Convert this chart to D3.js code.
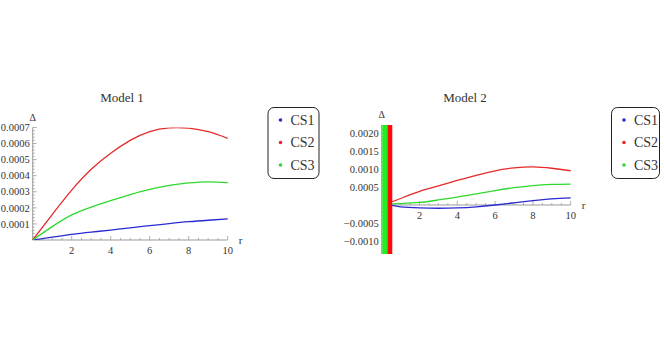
<!DOCTYPE html>
<html><head><meta charset="utf-8">
<script src="https://cdn.jsdelivr.net/npm/d3@7"></script>
<style>body{margin:0;background:#fff}svg{display:block}</style>
</head><body><svg id="c" width="664" height="348"></svg>
<script>
// ---------- data ----------
const series = ["CS1", "CS2", "CS3"];
const colors = ["#2a2ad2", "#e42a2a", "#2fd82f"];
const r1 = [0, 1, 2, 3, 4, 5, 6, 7, 8, 9, 10];
const m1CS1 = [0, 0.000018, 0.000035, 0.000049, 0.000062, 0.000076, 0.000089, 0.000102, 0.000114, 0.000123, 0.000131];
const m1CS2 = [0, 0.000158, 0.00031, 0.00044, 0.00054, 0.00062, 0.000675, 0.000698, 0.000696, 0.000674, 0.000633];
const m1CS3 = [0, 0.000083, 0.000156, 0.000205, 0.000245, 0.000283, 0.000315, 0.00034, 0.000355, 0.000362, 0.000357];
const r2 = [0.55, 1, 2, 3, 4, 5, 6, 7, 8, 9, 10];
const m2CS1 = [-0.00001, -0.00005, -0.00008, -0.00009, -0.00008, -0.00005, 0, 0.00006, 0.00012, 0.00017, 0.0002];
const m2CS2 = [0.00009, 0.00018, 0.00038, 0.00053, 0.00068, 0.00082, 0.00095, 0.00103, 0.00106, 0.00102, 0.00095];
const m2CS3 = [0.00003, 0.00004, 0.00007, 0.00014, 0.00022, 0.00031, 0.00040, 0.00048, 0.00054, 0.00057, 0.00058];
// divergent region near r = 0 in Model 2 (r extent of each band)
const m2Bands = [{s: 2, r0: 0.03, r1: 0.3}, {s: 1, r0: 0.3, r1: 0.56}];
const xTicks = [2, 4, 6, 8, 10];
const m1YTicks = [0.0001, 0.0002, 0.0003, 0.0004, 0.0005, 0.0006, 0.0007];
const m2YTicks = [-0.001, -0.0005, 0.0005, 0.001, 0.0015, 0.002];

const svg = d3.select("#c");
const serif = "'Liberation Serif','Times New Roman',serif";
const axisCol = "#9a9a9a", textCol = "#333";

function panel(o) {
  const g = svg.append("g");
  const x = d3.scaleLinear().domain([0, 10]).range(o.xr);
  const y = d3.scaleLinear().domain(o.yd).range(o.yr);
  const clipId = "clip" + o.id;
  g.append("clipPath").attr("id", clipId).append("rect")
    .attr("x", o.xr[0] - 2).attr("y", o.yr[1]).attr("width", o.xr[1] - o.xr[0] + 4).attr("height", o.yr[0] - o.yr[1]);
  // axes
  g.append("line").attr("x1", x(0)).attr("x2", x(10)).attr("y1", y(0)).attr("y2", y(0)).attr("stroke", axisCol).attr("stroke-width", 1);
  g.append("line").attr("x1", x(0)).attr("x2", x(0)).attr("y1", o.yr[0]).attr("y2", o.yr[1]).attr("stroke", axisCol).attr("stroke-width", 1);
  // x ticks (major + minor, pointing inward)
  const xMinor = d3.range(0.5, 10.01, 0.5);
  g.selectAll(".xm").data(xMinor).join("line")
    .attr("x1", d => x(d)).attr("x2", d => x(d))
    .attr("y1", y(0)).attr("y2", d => y(0) - (xTicks.includes(d) ? 4 : 2))
    .attr("stroke", axisCol).attr("stroke-width", 0.8);
  g.selectAll(".xl").data(xTicks).join("text")
    .attr("x", d => x(d)).attr("y", y(0) + o.xLabDy)
    .attr("text-anchor", "middle").attr("font-family", serif).attr("font-size", 10.5).attr("fill", textCol)
    .text(d => d);
  // y ticks
  const step = o.yStep / 5;
  const yMinor = d3.range(Math.ceil(o.yd[0] / step), Math.floor(o.yd[1] / step) + 1).map(k => k * step).filter(v => Math.abs(v) > 1e-12);
  g.selectAll(".ym").data(yMinor).join("line")
    .attr("x1", x(0)).attr("x2", d => x(0) + (Math.abs(Math.round(d / step)) % 5 === 0 ? 4 : 2))
    .attr("y1", d => y(d)).attr("y2", d => y(d))
    .attr("stroke", axisCol).attr("stroke-width", 0.8);
  g.selectAll(".yl").data(o.yTicks).join("text")
    .attr("x", x(0) - 3).attr("y", d => y(d)).attr("dy", "0.35em")
    .attr("text-anchor", "end").attr("font-family", serif).attr("font-size", 10.5).attr("fill", textCol)
    .text(d => (d < 0 ? "\u2212" : "") + Math.abs(d).toFixed(4));
  // axis labels
  g.append("text").attr("x", x(0)).attr("y", o.yr[1] - 7).attr("text-anchor", "middle")
    .attr("font-family", serif).attr("font-size", 10).attr("fill", textCol).text("\u0394");
  g.append("text").attr("x", x(10) + 13).attr("y", y(0) + 4).attr("text-anchor", "middle")
    .attr("font-family", serif).attr("font-size", 11).attr("fill", textCol).text("r");
  // title
  g.append("text").attr("x", o.titleX).attr("y", 102).attr("text-anchor", "middle")
    .attr("font-family", serif).attr("font-size", 13).attr("fill", textCol).text(o.title);
  const pg = g.append("g").attr("clip-path", `url(#${clipId})`);
  if (o.bands) {
    pg.selectAll(".band").data(o.bands).join("rect")
      .attr("x", d => x(d.r0)).attr("width", d => x(d.r1) - x(d.r0))
      .attr("y", o.yr[1]).attr("height", o.yr[0] - o.yr[1])
      .attr("fill", d => ["#2020ff", "#ff0a0a", "#22ee22"][d.s]);
  }
  const line = d3.line().x(d => x(d[0])).y(d => y(d[1])).curve(d3.curveNatural);
  o.data.forEach((vals, i) => {
    pg.append("path").datum(o.r.map((rv, k) => [rv, vals[k]]))
      .attr("d", line).attr("fill", "none").attr("stroke", colors[i]).attr("stroke-width", 1.3);
  });
  // legend
  const lg = g.append("g");
  lg.append("rect").attr("x", o.leg[0]).attr("y", 107.5).attr("width", o.leg[1]).attr("height", 71)
    .attr("rx", 6).attr("fill", "#fff").attr("stroke", "#222").attr("stroke-width", 1);
  series.forEach((s, i) => {
    const cy = 120 + i * 22.5;
    lg.append("circle").attr("cx", o.leg[0] + 12.5).attr("cy", cy).attr("r", 1.8).attr("fill", colors[i]);
    lg.append("text").attr("x", o.leg[0] + 22.5).attr("y", cy).attr("dy", "0.35em")
      .attr("font-family", serif).attr("font-size", 14).attr("fill", textCol).text(s);
  });
}

panel({id: 1, title: "Model 1", titleX: 122, xr: [32.7, 227.7], yd: [0, 0.0007], yr: [240, 127.5], yStep: 0.0001,
  yTicks: m1YTicks, xLabDy: 14, r: r1, data: [m1CS1, m1CS2, m1CS3], leg: [268, 51]});
panel({id: 2, title: "Model 2", titleX: 465, xr: [381.7, 570.7], yd: [-0.00136, 0.00222], yr: [254, 125], yStep: 0.0005,
  yTicks: m2YTicks, xLabDy: 14, r: r2, data: [m2CS1, m2CS2, m2CS3], bands: m2Bands, leg: [611.5, 48]});
</script></body></html>
